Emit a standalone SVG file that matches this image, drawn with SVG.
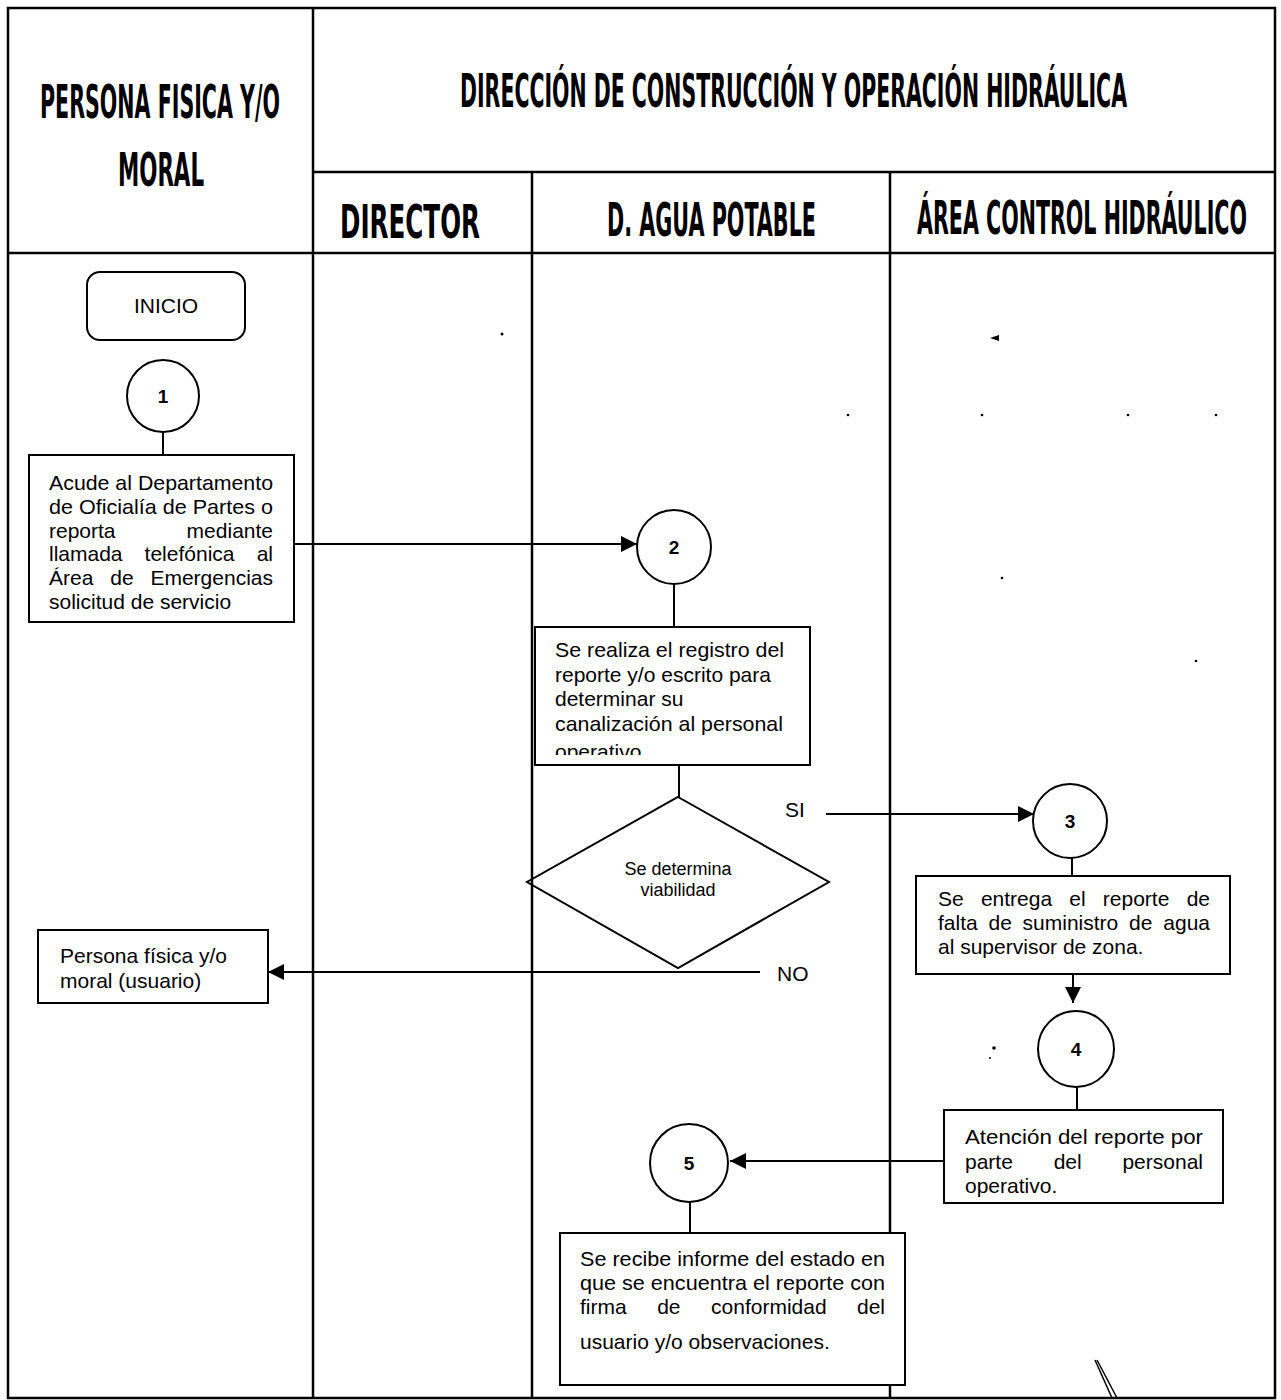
<svg xmlns="http://www.w3.org/2000/svg" width="1281" height="1400" viewBox="0 0 1281 1400">
<style>
.hdr{font-family:"DejaVu Sans Condensed","DejaVu Sans",sans-serif;font-weight:bold;font-size:21px;fill:#000}
.t{font-family:"Liberation Sans",Arial,sans-serif;font-size:21px;fill:#000}
.sm{font-family:"Liberation Sans",Arial,sans-serif;font-size:18px;fill:#000}
.num{font-family:"Liberation Sans",Arial,sans-serif;font-size:19px;font-weight:bold;fill:#000;text-anchor:middle}
.box{fill:#fff;stroke:#000;stroke-width:2}
.ln{stroke:#000;stroke-width:2;fill:none}
.grid{stroke:#000;stroke-width:2.5;fill:none}
</style>
<defs>
<marker id="ah" viewBox="0 0 10 10" refX="10" refY="5" markerWidth="16" markerHeight="16" markerUnits="userSpaceOnUse" orient="auto">
<path d="M0,0 L10,5 L0,10 z" fill="#000"/>
</marker>
<clipPath id="c2"><rect x="535" y="627" width="275" height="128"/></clipPath>
</defs>
<rect width="1281" height="1400" fill="#fff"/>
<g id="lanes">
<rect class="grid" x="8" y="8" width="1267" height="1390"/>
<line class="grid" x1="313" y1="8" x2="313" y2="1398"/>
<line class="grid" x1="313" y1="172" x2="1275" y2="172"/>
<line class="grid" x1="8" y1="253" x2="1275" y2="253" stroke-width="3"/>
<line class="grid" x1="532" y1="172" x2="532" y2="1398"/>
<line class="grid" x1="890" y1="172" x2="890" y2="1398"/>
<text class="hdr" transform="translate(40,118) scale(1,2.2)" textLength="240" lengthAdjust="spacingAndGlyphs">PERSONA FISICA Y/O</text>
<text class="hdr" transform="translate(118,186) scale(1,2.2)" textLength="86" lengthAdjust="spacingAndGlyphs">MORAL</text>
<text class="hdr" transform="translate(460,107) scale(1,2.2)" textLength="667" lengthAdjust="spacingAndGlyphs">DIRECCIÓN DE CONSTRUCCIÓN Y OPERACIÓN HIDRÁULICA</text>
<text class="hdr" transform="translate(340,238) scale(1,2.2)" textLength="140" lengthAdjust="spacingAndGlyphs">DIRECTOR</text>
<text class="hdr" transform="translate(607,236) scale(1,2.2)" textLength="209" lengthAdjust="spacingAndGlyphs">D. AGUA POTABLE</text>
<text class="hdr" transform="translate(917,234) scale(1,2.2)" textLength="330" lengthAdjust="spacingAndGlyphs">ÁREA CONTROL HIDRÁULICO</text>
</g>
<g id="connectors">
<line class="ln" x1="163" y1="432" x2="163" y2="455"/>
<line class="ln" x1="294" y1="544" x2="637" y2="544" marker-end="url(#ah)"/>
<line class="ln" x1="674" y1="584" x2="674" y2="627"/>
<line class="ln" x1="679" y1="765" x2="679" y2="797"/>
<line class="ln" x1="826" y1="814" x2="1034" y2="814" marker-end="url(#ah)"/>
<line class="ln" x1="760" y1="972" x2="268" y2="972" marker-end="url(#ah)"/>
<line class="ln" x1="1072" y1="858" x2="1072" y2="876"/>
<line class="ln" x1="1073" y1="974" x2="1073" y2="1003" marker-end="url(#ah)"/>
<line class="ln" x1="1077" y1="1087" x2="1077" y2="1110"/>
<line class="ln" x1="944" y1="1161" x2="730" y2="1161" marker-end="url(#ah)"/>
<line class="ln" x1="690" y1="1202" x2="690" y2="1233"/>
<text class="t" x="785" y="817" font-size="19">SI</text>
<text class="t" x="777" y="981" font-size="20">NO</text>
</g>
<g id="inicio">
<rect class="box" x="87" y="272" width="158" height="68" rx="13"/>
<text class="t" x="166" y="313" text-anchor="middle">INICIO</text>
</g>
<g id="c1"><circle class="box" cx="163" cy="396" r="36"/><text class="num" x="163" y="403">1</text></g>
<g id="b1">
<rect class="box" x="29" y="455" width="265" height="167"/>
<text class="t" x="49" y="490" textLength="224" lengthAdjust="spacingAndGlyphs">Acude al Departamento</text>
<text class="t" x="49" y="514" textLength="224" lengthAdjust="spacingAndGlyphs">de Oficialía de Partes o</text>
<text class="t" y="538"><tspan x="49">reporta</tspan><tspan x="273" text-anchor="end">mediante</tspan></text>
<text class="t" y="561"><tspan x="49">llamada</tspan><tspan x="144.6">telefónica</tspan><tspan x="273" text-anchor="end">al</tspan></text>
<text class="t" y="585"><tspan x="49">Área</tspan><tspan x="110.3">de</tspan><tspan x="273" text-anchor="end">Emergencias</tspan></text>
<text class="t" x="49" y="609">solicitud de servicio</text>
</g>
<g id="c2n"><circle class="box" cx="674" cy="547" r="37"/><text class="num" x="674" y="554">2</text></g>
<g id="b2">
<rect class="box" x="535" y="627" width="275" height="138"/>
<g clip-path="url(#c2)">
<text class="t" x="555" y="657" textLength="229" lengthAdjust="spacingAndGlyphs">Se realiza el registro del</text>
<text class="t" x="555" y="682">reporte y/o escrito para</text>
<text class="t" x="555" y="706">determinar su</text>
<text class="t" x="555" y="731" textLength="228" lengthAdjust="spacingAndGlyphs">canalización al personal</text>
<text class="t" x="555" y="759">operativo</text>
</g>
</g>
<g id="decision">
<polygon class="ln" points="678,797 829,882 678,968 527,882"/>
<text class="sm" x="678" y="875" text-anchor="middle">Se determina</text>
<text class="sm" x="678" y="896" text-anchor="middle">viabilidad</text>
</g>
<g id="b6">
<rect class="box" x="38" y="930" width="230" height="73"/>
<text class="t" x="60" y="963">Persona física y/o</text>
<text class="t" x="60" y="988">moral (usuario)</text>
</g>
<g id="c3"><circle class="box" cx="1070" cy="821" r="37"/><text class="num" x="1070" y="828">3</text></g>
<g id="b3">
<rect class="box" x="916" y="876" width="314" height="98"/>
<text class="t" y="906"><tspan x="938">Se</tspan><tspan x="980.9">entrega</tspan><tspan x="1069.3">el</tspan><tspan x="1102.8">reporte</tspan><tspan x="1210" text-anchor="end">de</tspan></text>
<text class="t" y="930"><tspan x="938">falta</tspan><tspan x="988.5">de</tspan><tspan x="1022.6">suministro</tspan><tspan x="1129">de</tspan><tspan x="1210" text-anchor="end">agua</tspan></text>
<text class="t" x="938" y="954">al supervisor de zona.</text>
</g>
<g id="c4"><circle class="box" cx="1076" cy="1049" r="38"/><text class="num" x="1076" y="1056">4</text></g>
<g id="b4">
<rect class="box" x="944" y="1110" width="279" height="93"/>
<text class="t" x="965" y="1144" textLength="238" lengthAdjust="spacingAndGlyphs">Atención del reporte por</text>
<text class="t" y="1169"><tspan x="965">parte</tspan><tspan x="1053.7">del</tspan><tspan x="1203" text-anchor="end">personal</tspan></text>
<text class="t" x="965" y="1193">operativo.</text>
</g>
<g id="c5"><circle class="box" cx="689" cy="1163" r="39"/><text class="num" x="689" y="1170">5</text></g>
<g id="b5">
<rect class="box" x="560" y="1233" width="345" height="152"/>
<text class="t" x="580" y="1266" textLength="305" lengthAdjust="spacingAndGlyphs">Se recibe informe del estado en</text>
<text class="t" x="580" y="1290" textLength="305" lengthAdjust="spacingAndGlyphs">que se encuentra el reporte con</text>
<text class="t" y="1314"><tspan x="580">firma</tspan><tspan x="657.2">de</tspan><tspan x="711.1">conformidad</tspan><tspan x="885" text-anchor="end">del</tspan></text>
<text class="t" x="580" y="1349">usuario y/o observaciones.</text>
</g>
<g id="marks" fill="#000">
<circle cx="502" cy="334" r="1.5"/>
<path d="M990,338 L999,335 L999,341 z"/>
<circle cx="848" cy="415" r="1.3"/>
<circle cx="982" cy="415" r="1.3"/>
<circle cx="1128" cy="415" r="1.3"/>
<circle cx="1216" cy="415" r="1.3"/>
<circle cx="1002" cy="578" r="1.3"/>
<circle cx="1196" cy="661" r="1.3"/>
<circle cx="994" cy="1048" r="1.8"/>
<circle cx="990" cy="1058" r="1"/>
<path d="M1095,1360 L1112,1398 M1097,1360 L1117,1398" stroke="#000" stroke-width="1.5" fill="none"/>
</g>
</svg>
